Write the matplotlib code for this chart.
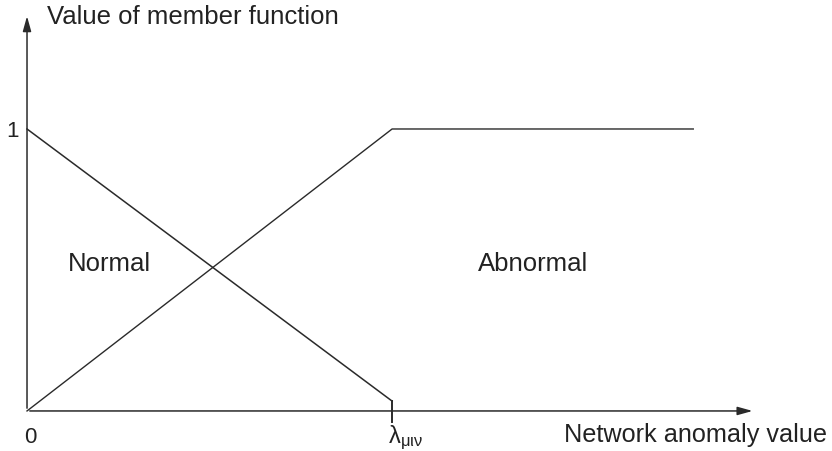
import matplotlib
matplotlib.use('Agg')
import matplotlib.pyplot as plt

plt.rcParams['font.family'] = ['Liberation Sans', 'DejaVu Sans']
plt.rcParams['mathtext.default'] = 'regular'

# membership functions (x in units of lambda)
normal_x = [0, 1]
normal_y = [1, 0.035]
abnormal_x = [0, 1, 1.825]
abnormal_y = [0, 1, 1]
lam_mark_y = [0.035, -0.04]

fig = plt.figure(figsize=(8.32, 4.52), dpi=100)
ax = fig.add_axes([0, 0, 1, 1])
ax.set_xlim(-0.074, 2.205)
ax.set_ylim(-0.142, 1.461)
ax.axis('off')

col = '#2a2a2a'
ax.plot(normal_x, normal_y, color=col, lw=1.1)
ax.plot(abnormal_x, abnormal_y, color=col, lw=1.0)
ax.plot([1, 1], lam_mark_y, color=col, lw=1.4)

# axes with arrows
ax.annotate('', xy=(1.995, 0), xytext=(0, 0),
            arrowprops=dict(arrowstyle='-|>,head_length=0.9,head_width=0.25', color=col, lw=1.1))
ax.annotate('', xy=(0, 1.41), xytext=(0, 0),
            arrowprops=dict(arrowstyle='-|>,head_length=0.9,head_width=0.25', color=col, lw=1.1))

fs = 18.5
tc = '#222222'
ax.text(0.055, 1.40, 'Value of member function', fontsize=fs, color=tc, va='center', ha='left')
ax.text(-0.022, 0.995, '1', fontsize=16, color=tc, va='center', ha='right')
ax.text(0.01, -0.09, '0', fontsize=16, color=tc, va='center', ha='center')
ax.text(0.112, 0.525, 'Normal', fontsize=fs, color=tc, va='center', ha='left')
ax.text(1.236, 0.525, 'Abnormal', fontsize=fs, color=tc, va='center', ha='left')
ax.text(0.99, -0.09, r'$\lambda_{\mu\iota\nu}$', fontsize=17, color=tc, va='center', ha='left')
ax.text(2.19, -0.082, 'Network anomaly value', fontsize=18.2, color=tc, va='center', ha='right')

fig.savefig('out.png', dpi=100)
